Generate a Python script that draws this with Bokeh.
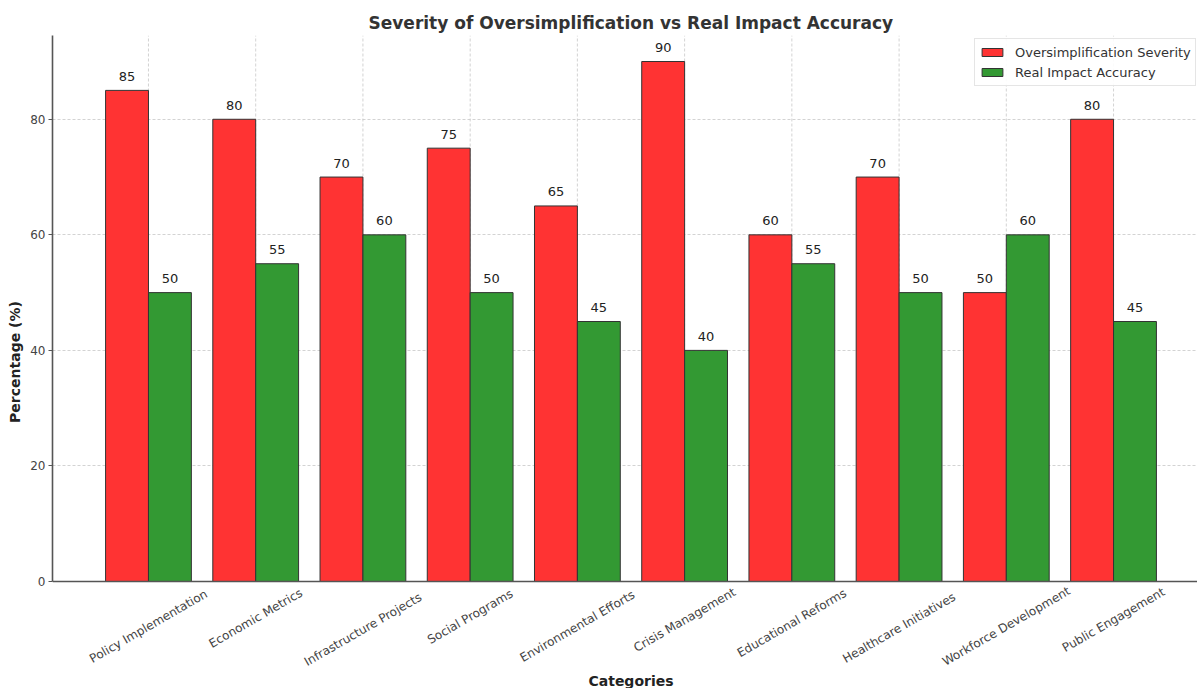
import math
from bokeh.plotting import figure
from bokeh.models import Range1d, FixedTicker, Label, Legend, LegendItem, ColumnDataSource, Span
from bokeh.core.properties import value
from bokeh.embed import file_html
from bokeh.resources import INLINE

categories = ["Policy Implementation", "Economic Metrics", "Infrastructure Projects",
              "Social Programs", "Environmental Efforts", "Crisis Management",
              "Educational Reforms", "Healthcare Initiatives", "Workforce Development",
              "Public Engagement"]
oversimplification = [85, 80, 70, 75, 65, 90, 60, 70, 50, 80]
real_impact = [50, 55, 60, 50, 45, 40, 55, 50, 60, 45]
y_ticks = [0, 20, 40, 60, 80]

FONT = "DejaVu Sans"
W, H = 1197, 688
BAR_W = 0.4
YMAX = 94.5
TOP = 35            # frame top in px
ZERO_PX = 581       # pixel row of y = 0
PPU = (ZERO_PX - TOP) / YMAX
YMIN = -(H - ZERO_PX) / PPU   # frame extends to the bottom of the canvas

idx = list(range(len(categories)))
x_red = [i - BAR_W / 2 for i in idx]
x_green = [i + BAR_W / 2 for i in idx]

p = figure(width=W, height=H, output_backend="svg", toolbar_location=None,
           x_range=Range1d(-0.895, 9.783), y_range=Range1d(YMIN, YMAX),
           min_border_left=52, min_border_right=0, min_border_top=TOP, min_border_bottom=0,
           title="Severity of Oversimplification vs Real Impact Accuracy")
p.outline_line_color = None
p.background_fill_color = "white"
p.border_fill_color = "white"

p.title.align = "left"
p.title.offset = 316
p.title.text_font = FONT
p.title.text_font_size = "17px"
p.title.text_font_style = "bold"
p.title.text_color = "#333333"
p.title.standoff = 5

# vertical grid lines (only over the plotting area, above y = 0)
p.xgrid.visible = False
p.segment(x0=idx, y0=[0] * len(idx), x1=idx, y1=[YMAX] * len(idx), level="underlay",
          line_color="#c8c8c8", line_dash="3 2", line_width=0.8)

src_r = ColumnDataSource(dict(x=x_red, top=oversimplification, lab=[str(v) for v in oversimplification]))
src_g = ColumnDataSource(dict(x=x_green, top=real_impact, lab=[str(v) for v in real_impact]))

r1 = p.vbar(x="x", top="top", width=BAR_W, bottom=0, source=src_r,
            fill_color="#ff3333", line_color="#333333", line_width=1)
r2 = p.vbar(x="x", top="top", width=BAR_W, bottom=0, source=src_g,
            fill_color="#339933", line_color="#333333", line_width=1)

for src in (src_r, src_g):
    p.text(x="x", y="top", text="lab", source=src, text_align="center", text_baseline="alphabetic",
           y_offset=-14, text_font=value(FONT), text_font_size="13px", text_color="#222222")

# x axis: drawn as spine + rotated labels inside the extended frame
p.xaxis.visible = False
p.add_layout(Span(location=0, dimension="width", line_color="#555555", line_width=1.6))

p.yaxis.ticker = FixedTicker(ticks=y_ticks)
p.yaxis.bounds = (0, YMAX)
p.yaxis.major_label_text_font = FONT
p.yaxis.major_label_text_font_size = "12px"
p.yaxis.major_label_text_color = "#444444"
p.yaxis.major_tick_out = 4
p.yaxis.major_tick_in = 0
p.yaxis.major_label_standoff = 3
p.yaxis.minor_tick_line_color = None
p.yaxis.axis_line_width = 1.6
p.yaxis.axis_line_color = "#555555"
p.yaxis.major_tick_line_color = "#555555"
p.yaxis.axis_label = "Percentage (%)"
p.yaxis.axis_label_text_font = FONT
p.yaxis.axis_label_text_font_size = "14px"
p.yaxis.axis_label_text_font_style = "bold"
p.yaxis.axis_label_text_color = "#222222"
p.yaxis.axis_label_standoff = 4

p.ygrid.ticker = FixedTicker(ticks=y_ticks)
p.ygrid.grid_line_color = "#c8c8c8"
p.ygrid.grid_line_dash = "3 2"
p.ygrid.grid_line_width = 0.8

# rotated category labels, centred under each tick (rotation 30 deg, top at pad)
ang = math.radians(30)
for i, cat in enumerate(categories):
    w = len(cat) * 6.4
    h = 12
    d_px = 6 + (w * math.sin(ang) + h * math.cos(ang)) / 2
    p.add_layout(Label(x=i, y=-d_px / PPU, text=cat, angle=ang,
                       text_align="center", text_baseline="middle",
                       text_font=FONT, text_font_size="12px", text_color="#444444"))

# x axis title
p.add_layout(Label(x=4.5, y=-(680 - ZERO_PX) / PPU, text="Categories",
                   text_align="center", text_baseline="middle",
                   text_font=FONT, text_font_size="14px", text_font_style="bold",
                   text_color="#222222"))

legend = Legend(items=[LegendItem(label="Oversimplification Severity", renderers=[r1]),
                       LegendItem(label="Real Impact Accuracy", renderers=[r2])],
                location=(922, H - 86), orientation="vertical")
legend.label_text_font = FONT
legend.label_text_font_size = "13px"
legend.label_text_color = "#333333"
legend.glyph_width = 26
legend.glyph_height = 10
legend.label_standoff = 10
legend.spacing = 2
legend.padding = 4
legend.margin = 0
legend.label_height = 18
legend.border_line_color = "#cccccc"
legend.border_line_width = 1
legend.background_fill_alpha = 0.9
p.add_layout(legend)

open("out.html", "w").write(file_html(p, INLINE))
